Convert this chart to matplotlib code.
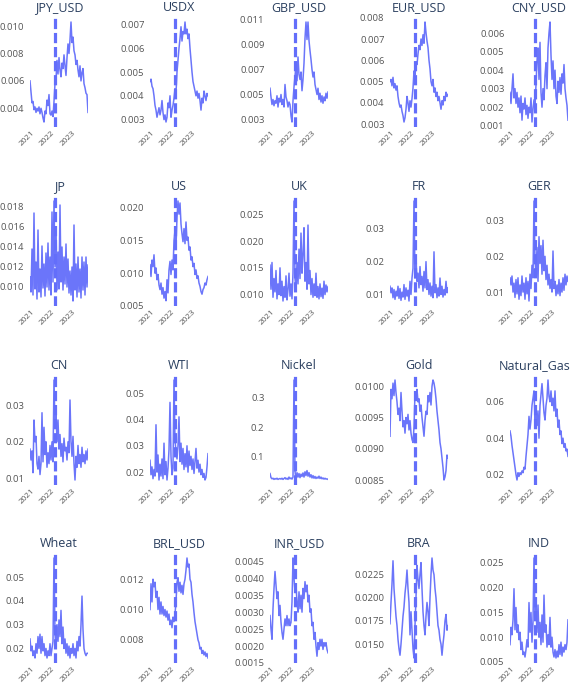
import matplotlib
matplotlib.use("Agg")
import matplotlib.pyplot as plt
import matplotlib.dates as mdates
import pandas as pd

plt.rcParams['font.family'] = ['Open Sans', 'DejaVu Sans']

names = ["JPY_USD", "USDX", "GBP_USD", "EUR_USD", "CNY_USD",
         "JP", "US", "UK", "FR", "GER",
         "CN", "WTI", "Nickel", "Gold", "Natural_Gas",
         "Wheat", "BRL_USD", "INR_USD", "BRA", "IND"]

jpy_usd = [0.0060, 0.0052, 0.0044, 0.0045, 0.0039, 0.0041, 0.0037, 0.0040, 0.0038, 0.0041,
           0.0036, 0.0040, 0.0037, 0.0033, 0.0030, 0.0038, 0.0036, 0.0046, 0.0042, 0.0050,
           0.0036, 0.0035, 0.0038, 0.0034, 0.0045, 0.0058, 0.0061, 0.0075, 0.0065, 0.0077,
           0.0068, 0.0063, 0.0073, 0.0069, 0.0079, 0.0071, 0.0064, 0.0077, 0.0087, 0.0080,
           0.0090, 0.0103, 0.0088, 0.0092, 0.0082, 0.0079, 0.0072, 0.0075, 0.0068, 0.0063,
           0.0071, 0.0060, 0.0066, 0.0069, 0.0058, 0.0055, 0.0051, 0.0050, 0.0037]
usdx = [0.0046, 0.0047, 0.0044, 0.0043, 0.0040, 0.0036, 0.0034, 0.0031, 0.0033, 0.0035,
        0.0032, 0.0034, 0.0038, 0.0033, 0.0030, 0.0032, 0.0029, 0.0031, 0.0037, 0.0035,
        0.0040, 0.0031, 0.0034, 0.0036, 0.0039, 0.0043, 0.0041, 0.0050, 0.0055, 0.0060,
        0.0064, 0.0069, 0.0063, 0.0067, 0.0066, 0.0071, 0.0066, 0.0068, 0.0064, 0.0066,
        0.0060, 0.0055, 0.0050, 0.0046, 0.0044, 0.0042, 0.0040, 0.0042, 0.0039, 0.0041,
        0.0038, 0.0034, 0.0039, 0.0037, 0.0042, 0.0040, 0.0038, 0.0041, 0.0040]
gbp_usd = [0.0055, 0.0048, 0.0042, 0.0046, 0.0041, 0.0045, 0.0043, 0.0049, 0.0040, 0.0047,
           0.0044, 0.0050, 0.0042, 0.0046, 0.0040, 0.0058, 0.0048, 0.0045, 0.0040, 0.0044,
           0.0042, 0.0033, 0.0028, 0.0045, 0.0056, 0.0065, 0.0072, 0.0061, 0.0080, 0.0066,
           0.0062, 0.0068, 0.0053, 0.0062, 0.0075, 0.0095, 0.0108, 0.0094, 0.0108, 0.0093,
           0.0085, 0.0078, 0.0070, 0.0064, 0.0068, 0.0058, 0.0054, 0.0050, 0.0055, 0.0046,
           0.0051, 0.0044, 0.0049, 0.0043, 0.0048, 0.0045, 0.0051, 0.0047, 0.0052]
eur_usd = [0.0050, 0.0051, 0.0048, 0.0052, 0.0047, 0.0049, 0.0046, 0.0048, 0.0043, 0.0040,
           0.0038, 0.0039, 0.0036, 0.0034, 0.0031, 0.0033, 0.0037, 0.0043, 0.0040, 0.0036,
           0.0041, 0.0038, 0.0042, 0.0047, 0.0055, 0.0053, 0.0059, 0.0058, 0.0063, 0.0067,
           0.0065, 0.0070, 0.0067, 0.0072, 0.0068, 0.0078, 0.0073, 0.0069, 0.0066, 0.0060,
           0.0056, 0.0050, 0.0048, 0.0051, 0.0045, 0.0047, 0.0043, 0.0045, 0.0041, 0.0043,
           0.0040, 0.0037, 0.0041, 0.0039, 0.0043, 0.0041, 0.0045, 0.0043, 0.0044]
cny_usd = [0.0028, 0.0022, 0.0030, 0.0038, 0.0025, 0.0030, 0.0022, 0.0028, 0.0020, 0.0025,
           0.0017, 0.0026, 0.0013, 0.0022, 0.0019, 0.0025, 0.0016, 0.0021, 0.0014, 0.0020,
           0.0017, 0.0025, 0.0012, 0.0019, 0.0024, 0.0021, 0.0032, 0.0045, 0.0052, 0.0035,
           0.0055, 0.0028, 0.0020, 0.0030, 0.0024, 0.0037, 0.0044, 0.0030, 0.0052, 0.0060,
           0.0066, 0.0048, 0.0035, 0.0045, 0.0030, 0.0040, 0.0026, 0.0022, 0.0034, 0.0028,
           0.0036, 0.0027, 0.0038, 0.0033, 0.0043, 0.0030, 0.0025, 0.0021, 0.0013]
jp = [0.0110, 0.0095, 0.0138, 0.0092, 0.0174, 0.0098, 0.0125, 0.0088, 0.0157, 0.0095,
      0.0118, 0.0090, 0.0141, 0.0099, 0.0123, 0.0091, 0.0134, 0.0100, 0.0144, 0.0097,
      0.0130, 0.0092, 0.0175, 0.0105, 0.0186, 0.0120, 0.0160, 0.0097, 0.0135, 0.0098,
      0.0182, 0.0105, 0.0140, 0.0097, 0.0130, 0.0103, 0.0143, 0.0100, 0.0128, 0.0094,
      0.0116, 0.0092, 0.0120, 0.0086, 0.0162, 0.0097, 0.0123, 0.0090, 0.0130, 0.0095,
      0.0118, 0.0089, 0.0130, 0.0097, 0.0125, 0.0092, 0.0130, 0.0100, 0.0122]
us = [0.0113, 0.0095, 0.0120, 0.0110, 0.0128, 0.0100, 0.0108, 0.0090, 0.0098, 0.0082,
      0.0075, 0.0085, 0.0068, 0.0078, 0.0062, 0.0072, 0.0058, 0.0090, 0.0070, 0.0105,
      0.0118, 0.0098, 0.0120, 0.0105, 0.0150, 0.0165, 0.0140, 0.0185, 0.0210, 0.0190,
      0.0207, 0.0175, 0.0160, 0.0148, 0.0168, 0.0145, 0.0178, 0.0150, 0.0155, 0.0135,
      0.0140, 0.0120, 0.0125, 0.0110, 0.0115, 0.0098, 0.0105, 0.0092, 0.0096, 0.0085,
      0.0080, 0.0072, 0.0068, 0.0075, 0.0078, 0.0085, 0.0082, 0.0090, 0.0095]
uk = [0.0155, 0.0110, 0.0160, 0.0095, 0.0130, 0.0105, 0.0145, 0.0092, 0.0120, 0.0100,
      0.0150, 0.0098, 0.0125, 0.0088, 0.0115, 0.0095, 0.0135, 0.0090, 0.0110, 0.0140,
      0.0097, 0.0120, 0.0092, 0.0140, 0.0275, 0.0130, 0.0110, 0.0160, 0.0120, 0.0185,
      0.0130, 0.0215, 0.0140, 0.0175, 0.0225, 0.0125, 0.0160, 0.0110, 0.0230, 0.0120,
      0.0145, 0.0100, 0.0130, 0.0095, 0.0120, 0.0098, 0.0140, 0.0095, 0.0115, 0.0092,
      0.0120, 0.0096, 0.0112, 0.0093, 0.0125, 0.0100, 0.0118, 0.0105, 0.0115]
fr = [0.0125, 0.0105, 0.0120, 0.0090, 0.0115, 0.0085, 0.0110, 0.0095, 0.0125, 0.0088,
      0.0118, 0.0082, 0.0107, 0.0092, 0.0130, 0.0085, 0.0120, 0.0095, 0.0113, 0.0080,
      0.0140, 0.0100, 0.0150, 0.0180, 0.0385, 0.0150, 0.0215, 0.0140, 0.0165, 0.0120,
      0.0185, 0.0130, 0.0155, 0.0110, 0.0170, 0.0120, 0.0200, 0.0115, 0.0145, 0.0100,
      0.0135, 0.0095, 0.0125, 0.0090, 0.0230, 0.0105, 0.0130, 0.0090, 0.0120, 0.0095,
      0.0150, 0.0100, 0.0125, 0.0092, 0.0115, 0.0098, 0.0140, 0.0105, 0.0120]
ger = [0.0140, 0.0120, 0.0145, 0.0100, 0.0125, 0.0085, 0.0135, 0.0095, 0.0140, 0.0080,
       0.0120, 0.0090, 0.0145, 0.0100, 0.0125, 0.0080, 0.0140, 0.0095, 0.0130, 0.0075,
       0.0150, 0.0110, 0.0175, 0.0140, 0.0355, 0.0190, 0.0150, 0.0225, 0.0130, 0.0255,
       0.0180, 0.0230, 0.0150, 0.0245, 0.0160, 0.0200, 0.0135, 0.0175, 0.0120, 0.0150,
       0.0110, 0.0135, 0.0100, 0.0215, 0.0110, 0.0130, 0.0090, 0.0120, 0.0095, 0.0135,
       0.0090, 0.0125, 0.0100, 0.0140, 0.0105, 0.0150, 0.0120, 0.0145, 0.0130]
cn = [0.0180, 0.0150, 0.0175, 0.0115, 0.0260, 0.0200, 0.0215, 0.0140, 0.0125, 0.0160,
      0.0110, 0.0140, 0.0280, 0.0145, 0.0240, 0.0165, 0.0200, 0.0130, 0.0170, 0.0140,
      0.0190, 0.0150, 0.0200, 0.0145, 0.0370, 0.0240, 0.0280, 0.0200, 0.0260, 0.0180,
      0.0220, 0.0160, 0.0195, 0.0145, 0.0210, 0.0175, 0.0185, 0.0150, 0.0200, 0.0170,
      0.0315, 0.0200, 0.0160, 0.0215, 0.0140, 0.0095, 0.0160, 0.0130, 0.0190, 0.0140,
      0.0165, 0.0130, 0.0185, 0.0145, 0.0165, 0.0140, 0.0175, 0.0150, 0.0180]
wti = [0.0245, 0.0190, 0.0220, 0.0175, 0.0210, 0.0185, 0.0380, 0.0200, 0.0265, 0.0170,
       0.0230, 0.0185, 0.0250, 0.0175, 0.0310, 0.0190, 0.0240, 0.0170, 0.0215, 0.0285,
       0.0465, 0.0260, 0.0190, 0.0215, 0.0550, 0.0320, 0.0280, 0.0250, 0.0300, 0.0410,
       0.0240, 0.0310, 0.0230, 0.0290, 0.0210, 0.0270, 0.0220, 0.0300, 0.0200, 0.0280,
       0.0225, 0.0260, 0.0210, 0.0250, 0.0195, 0.0240, 0.0290, 0.0215, 0.0245, 0.0200,
       0.0230, 0.0190, 0.0210, 0.0180, 0.0195, 0.0170, 0.0180, 0.0220, 0.0270]
nickel = [0.042, 0.028, 0.024, 0.026, 0.022, 0.025, 0.023, 0.026, 0.022, 0.024,
          0.025, 0.023, 0.026, 0.022, 0.025, 0.028, 0.023, 0.026, 0.022, 0.030,
          0.024, 0.027, 0.023, 0.030, 0.360, 0.050, 0.020, 0.045, 0.030, 0.042,
          0.028, 0.040, 0.032, 0.044, 0.030, 0.048, 0.035, 0.052, 0.033, 0.045,
          0.030, 0.038, 0.027, 0.035, 0.026, 0.032, 0.025, 0.030, 0.026, 0.033,
          0.025, 0.030, 0.024, 0.027, 0.023, 0.026, 0.023, 0.024, 0.022]
gold = [0.00920, 0.00995, 0.00980, 0.01005, 0.00985, 0.01010, 0.00990, 0.00975, 0.00955, 0.00965,
        0.00945, 0.00990, 0.00960, 0.00935, 0.00945, 0.00925, 0.00950, 0.00940, 0.00955, 0.00930,
        0.00945, 0.00925, 0.00915, 0.00910, 0.00935, 0.00990, 0.00985, 0.00995, 0.00975, 0.00980,
        0.00960, 0.00970, 0.00950, 0.00935, 0.00920, 0.00945, 0.00960, 0.00955, 0.00985, 0.00975,
        0.00990, 0.00970, 0.01000, 0.01010, 0.01005, 0.00995, 0.00980, 0.00960, 0.00945, 0.00930,
        0.00910, 0.00900, 0.00885, 0.00870, 0.00850, 0.00855, 0.00865, 0.00890, 0.00885]
natural_gas = [0.044, 0.041, 0.036, 0.032, 0.028, 0.024, 0.020, 0.017, 0.021, 0.019,
               0.021, 0.020, 0.022, 0.021, 0.024, 0.023, 0.030, 0.036, 0.042, 0.052,
               0.045, 0.050, 0.058, 0.062, 0.066, 0.050, 0.056, 0.047, 0.055, 0.040,
               0.058, 0.064, 0.070, 0.062, 0.054, 0.050, 0.058, 0.062, 0.072, 0.063,
               0.060, 0.066, 0.058, 0.062, 0.055, 0.066, 0.052, 0.056, 0.046, 0.050,
               0.042, 0.044, 0.037, 0.040, 0.035, 0.037, 0.033, 0.034, 0.030]
wheat = [0.024, 0.019, 0.021, 0.017, 0.019, 0.016, 0.022, 0.018, 0.025, 0.020,
         0.026, 0.018, 0.025, 0.019, 0.022, 0.017, 0.020, 0.016, 0.019, 0.017,
         0.022, 0.017, 0.020, 0.023, 0.058, 0.026, 0.020, 0.030, 0.023, 0.032,
         0.025, 0.036, 0.022, 0.029, 0.020, 0.024, 0.018, 0.022, 0.017, 0.021,
         0.016, 0.020, 0.018, 0.022, 0.017, 0.020, 0.016, 0.023, 0.019, 0.025,
         0.021, 0.030, 0.042, 0.028, 0.020, 0.018, 0.017, 0.018, 0.018]
brl_usd = [0.0100, 0.0117, 0.0105, 0.0120, 0.0115, 0.0118, 0.0108, 0.0112, 0.0100, 0.0108,
           0.0097, 0.0105, 0.0097, 0.0102, 0.0096, 0.0100, 0.0095, 0.0099, 0.0093, 0.0097,
           0.0090, 0.0093, 0.0088, 0.0095, 0.0092, 0.0097, 0.0105, 0.0118, 0.0121, 0.0112,
           0.0118, 0.0111, 0.0116, 0.0110, 0.0117, 0.0120, 0.0126, 0.0134, 0.0128, 0.0130,
           0.0120, 0.0118, 0.0110, 0.0105, 0.0098, 0.0092, 0.0088, 0.0084, 0.0080, 0.0078,
           0.0074, 0.0075, 0.0071, 0.0073, 0.0070, 0.0072, 0.0069, 0.0071, 0.0068]
inr_usd = [0.0029, 0.0025, 0.0022, 0.0031, 0.0037, 0.0042, 0.0038, 0.0034, 0.0036, 0.0029,
           0.0032, 0.0027, 0.0024, 0.0022, 0.0025, 0.0028, 0.0026, 0.0029, 0.0026, 0.0028,
           0.0026, 0.0027, 0.0033, 0.0046, 0.0040, 0.0036, 0.0038, 0.0033, 0.0030, 0.0036,
           0.0031, 0.0035, 0.0030, 0.0037, 0.0034, 0.0039, 0.0036, 0.0038, 0.0033, 0.0035,
           0.0030, 0.0031, 0.0026, 0.0027, 0.0022, 0.0024, 0.0020, 0.0017, 0.0021, 0.0019,
           0.0022, 0.0020, 0.0022, 0.0019, 0.0021, 0.0020, 0.0021, 0.0019, 0.0018]
bra = [0.0172, 0.0195, 0.0215, 0.0240, 0.0210, 0.0195, 0.0180, 0.0170, 0.0155, 0.0145,
       0.0138, 0.0150, 0.0165, 0.0180, 0.0190, 0.0205, 0.0215, 0.0230, 0.0210, 0.0195,
       0.0160, 0.0185, 0.0165, 0.0145, 0.0135, 0.0170, 0.0200, 0.0235, 0.0220, 0.0210,
       0.0225, 0.0238, 0.0210, 0.0185, 0.0170, 0.0160, 0.0180, 0.0195, 0.0185, 0.0170,
       0.0200, 0.0225, 0.0243, 0.0230, 0.0225, 0.0210, 0.0200, 0.0185, 0.0170, 0.0165,
       0.0155, 0.0150, 0.0138, 0.0150, 0.0160, 0.0175, 0.0182, 0.0165, 0.0170]
ind = [0.0085, 0.0120, 0.0105, 0.0135, 0.0198, 0.0115, 0.0160, 0.0110, 0.0125, 0.0095,
       0.0110, 0.0075, 0.0090, 0.0065, 0.0070, 0.0060, 0.0075, 0.0095, 0.0080, 0.0170,
       0.0110, 0.0150, 0.0090, 0.0130, 0.0260, 0.0135, 0.0160, 0.0110, 0.0165, 0.0100,
       0.0130, 0.0085, 0.0145, 0.0090, 0.0185, 0.0110, 0.0125, 0.0080, 0.0105, 0.0085,
       0.0140, 0.0080, 0.0100, 0.0070, 0.0060, 0.0075, 0.0058, 0.0072, 0.0060, 0.0085,
       0.0065, 0.0090, 0.0062, 0.0080, 0.0070, 0.0085, 0.0075, 0.0090, 0.0135]

series = [jpy_usd, usdx, gbp_usd, eur_usd, cny_usd,
          jp, us, uk, fr, ger,
          cn, wti, nickel, gold, natural_gas,
          wheat, brl_usd, inr_usd, bra, ind]

# y tick values and decimals shown per panel
yticks = [[0.004, 0.006, 0.008, 0.010], [0.003, 0.004, 0.005, 0.006, 0.007],
          [0.003, 0.005, 0.007, 0.009, 0.011], [0.003, 0.004, 0.005, 0.006, 0.007, 0.008],
          [0.001, 0.002, 0.003, 0.004, 0.005, 0.006],
          [0.010, 0.012, 0.014, 0.016, 0.018], [0.005, 0.010, 0.015, 0.020],
          [0.010, 0.015, 0.020, 0.025], [0.01, 0.02, 0.03], [0.01, 0.02, 0.03],
          [0.01, 0.02, 0.03], [0.02, 0.03, 0.04, 0.05], [0.1, 0.2, 0.3],
          [0.0085, 0.0090, 0.0095, 0.0100], [0.02, 0.04, 0.06],
          [0.02, 0.03, 0.04, 0.05], [0.008, 0.010, 0.012],
          [0.0015, 0.0020, 0.0025, 0.0030, 0.0035, 0.0040, 0.0045],
          [0.0150, 0.0175, 0.0200, 0.0225], [0.005, 0.010, 0.015, 0.020, 0.025]]
decimals = [3, 3, 3, 3, 3, 3, 3, 3, 2, 2, 2, 2, 1, 4, 2, 2, 3, 4, 4, 3]

dates = pd.date_range("2020-12-10", "2023-10-20", periods=len(jpy_usd))
invasion = pd.Timestamp("2022-02-24")

W, H = 571, 685
fig = plt.figure(figsize=(W / 100, H / 100), dpi=100)

col_left = [30, 150, 270, 390, 510]
row_top = [17, 196, 375, 553]
pw, ph = 58, 110
line_c = "#636efa"

titles = []
for i, (name, vals) in enumerate(zip(names, series)):
    r, c = divmod(i, 5)
    ax = fig.add_axes([col_left[c] / W, 1 - (row_top[r] + ph) / H, pw / W, ph / H])
    ax.plot(dates, vals, color=line_c, lw=1.1, alpha=0.95)
    ax.axvline(invasion, color=line_c, lw=2.3, ls=(0, (3.2, 1.2)))
    ax.set_xlim(dates[0], dates[-1])
    ax.margins(x=0, y=0.05)
    titles.append(ax.set_title(name, fontsize=9.0, color="#2a3f5f", pad=4))
    for s in ax.spines.values():
        s.set_visible(False)
    ax.xaxis.set_major_locator(mdates.YearLocator())
    ax.xaxis.set_major_formatter(mdates.DateFormatter("%Y"))
    ax.set_yticks(yticks[i])
    ax.set_yticklabels([f"{v:.{decimals[i]}f}" for v in yticks[i]])
    ax.tick_params(axis="y", length=0, pad=4, labelsize=6.8, labelcolor="#555555")
    ax.tick_params(axis="x", length=0, pad=2, labelsize=5.9, labelcolor="#555555")
    for lab in ax.get_xticklabels():
        lab.set_rotation(45)
        lab.set_ha("right")
        lab.set_rotation_mode("anchor")

# keep long titles in the last column inside the figure
fig.canvas.draw()
renderer = fig.canvas.get_renderer()
for t in titles:
    bb = t.get_window_extent(renderer)
    if bb.x1 > W - 1:
        x_ax, y_ax = t.get_position()
        shift = (bb.x1 - (W - 1)) / (pw)
        t.set_x(x_ax - shift)

fig.savefig("out.png", dpi=100, facecolor="white")
